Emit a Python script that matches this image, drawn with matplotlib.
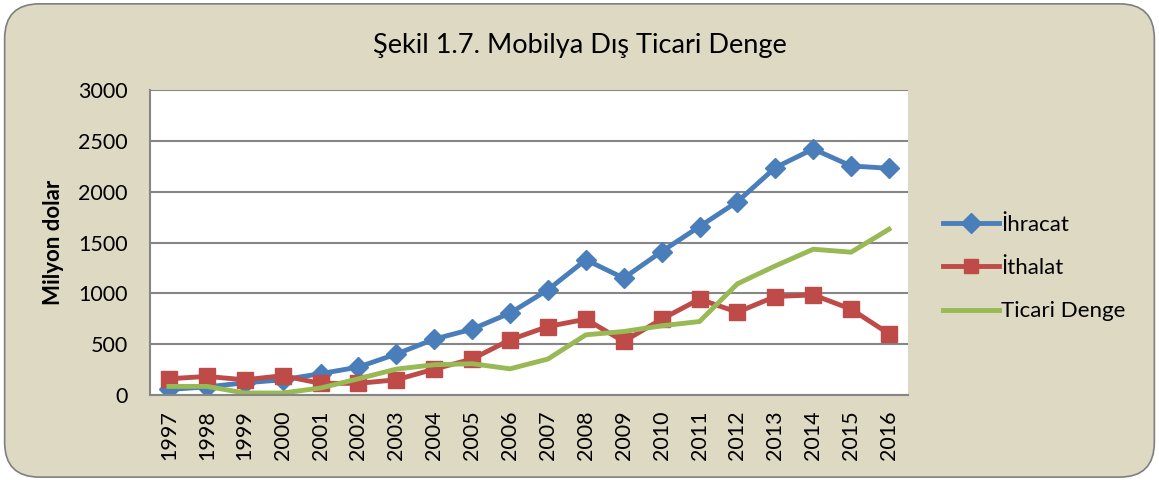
import matplotlib.pyplot as plt
from matplotlib.patches import FancyBboxPatch

years = [str(y) for y in range(1997, 2017)]
ihracat = [55, 80, 120, 150, 210, 275, 403, 550, 648, 806,
           1035, 1330, 1150, 1411, 1657, 1902, 2237, 2420, 2253, 2230]
ithalat = [160, 183, 150, 190, 115, 115, 150, 255, 354, 543,
           674, 746, 527, 746, 943, 815, 969, 985, 845, 602]
ticari_denge = [85, 85, 20, 20, 69, 160, 255, 298, 308, 258,
                354, 592, 625, 681, 723, 1094, 1270, 1434, 1405, 1631]

bg = '#DDD9C3'
plt.rcParams['font.family'] = ['Lato', 'DejaVu Sans']

fig = plt.figure(figsize=(11.59, 4.8), dpi=100)
fig.patch.set_facecolor('white')
box = FancyBboxPatch((0.004, 0.006), 0.992, 0.986, boxstyle='round,pad=0,rounding_size=0.03',
                     transform=fig.transFigure, facecolor=bg, edgecolor='#7f7f7f', lw=1.2,
                     mutation_aspect=1159/480, zorder=-5)
fig.patches.append(box)

ax = fig.add_axes([0.1294, 0.177, 0.6540, 0.6355])
ax.set_facecolor('white')
x = range(len(years))
ax.plot(x, ihracat, color='#4A7EBB', lw=3.5, marker='D', ms=10, label='İhracat')
ax.plot(x, ithalat, color='#BE4B48', lw=3.5, marker='s', ms=12, label='İthalat')
ax.plot(x, ticari_denge, color='#98B954', lw=3.5, label='Ticari Denge')

ax.set_xlim(-0.5, len(years) - 0.5)
ax.set_ylim(0, 3000)
ax.set_yticks(range(0, 3001, 500))
ax.set_xticks(list(x))
ax.set_xticklabels(years, rotation=90)
ax.tick_params(axis='both', labelsize=15.5, length=0)
ax.tick_params(axis='y', pad=16)
ax.tick_params(axis='x', pad=11)
ax.grid(axis='y', color='#868686', lw=1.5)
ax.set_axisbelow(True)
for s in ['top', 'right']:
    ax.spines[s].set_visible(False)
ax.spines['left'].set_color('#868686')
ax.spines['bottom'].set_color('#868686')
ax.spines['left'].set_linewidth(1.5)
ax.spines['bottom'].set_linewidth(1.5)
ax.set_ylabel('Milyon dolar', fontsize=16, fontweight='bold')
ax.yaxis.set_label_coords(-0.113, 0.5)

fig.text(0.5, 0.905, 'Şekil 1.7. Mobilya Dış Ticari Denge', ha='center', va='center', fontsize=19.5)

leg = ax.legend(loc='center left', bbox_to_anchor=(1.035, 0.416), frameon=False, fontsize=16,
                handlelength=2.5, labelspacing=1.05, handletextpad=0.1, borderaxespad=0)
for h in leg.legend_handles:
    h.set_markersize(10)

fig.savefig('out.png', dpi=100, facecolor=fig.get_facecolor())
